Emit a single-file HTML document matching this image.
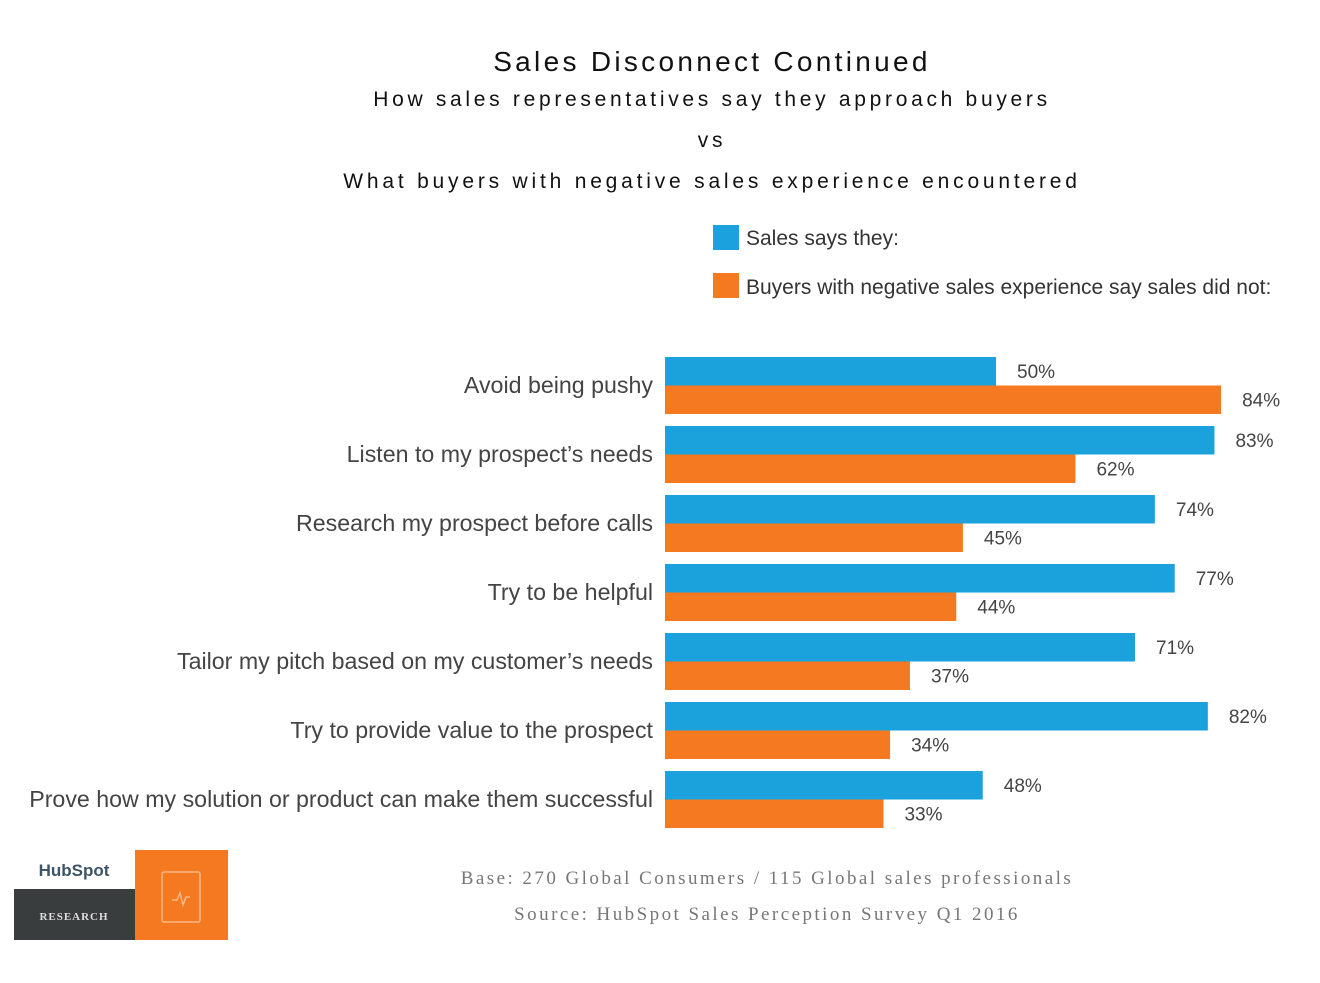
<!DOCTYPE html>
<html><head><meta charset="utf-8"><style>
body{margin:0;background:#fff;width:1320px;height:978px;overflow:hidden;font-family:"Liberation Sans",sans-serif}
</style></head><body>
<svg width="1320" height="978" xmlns="http://www.w3.org/2000/svg">
<text x="712" y="71" text-anchor="middle" font-size="28" letter-spacing="3.3" fill="#111">Sales Disconnect Continued</text>
<text x="712" y="106" text-anchor="middle" font-size="21" letter-spacing="3.7" fill="#111">How sales representatives say they approach buyers</text>
<text x="712" y="147" text-anchor="middle" font-size="21" letter-spacing="3.7" fill="#111">vs</text>
<text x="712" y="188" text-anchor="middle" font-size="21" letter-spacing="3.8" fill="#111">What buyers with negative sales experience encountered</text>
<g>
<rect x="713" y="225" width="26" height="25" fill="#1ba1dc"/>
<text x="746" y="245" font-size="21" fill="#333">Sales says they:</text>
<rect x="713" y="273" width="26" height="25" fill="#f47920"/>
<text x="746" y="294" font-size="21" fill="#333">Buyers with negative sales experience say sales did not:</text>
</g>
<g id="bars"></g>
<g>
<text x="74" y="876" text-anchor="middle" font-size="17" font-weight="bold" fill="#3d5566">HubSpot</text>
<rect x="14" y="889" width="121" height="51" fill="#3a3d3e"/>
<text x="74" y="920" text-anchor="middle" font-family="Liberation Serif,serif" font-size="11" font-weight="bold" letter-spacing="1" fill="#ddd">RESEARCH</text>
<rect x="135" y="850" width="93" height="90" fill="#f47920"/>
<rect x="162" y="872" width="38" height="50" rx="2" fill="none" stroke="#f9b889" stroke-width="1.5"/>
<polyline points="172,900 177,900 180,893 183,905 186,897 190,897" fill="none" stroke="#f9b889" stroke-width="1.5"/>
</g>
<text x="767" y="884" text-anchor="middle" font-family="Liberation Serif,serif" font-size="19" letter-spacing="2.45" fill="#777">Base: 270 Global Consumers / 115 Global sales professionals</text>
<text x="767" y="920" text-anchor="middle" font-family="Liberation Serif,serif" font-size="19" letter-spacing="2.45" fill="#777">Source: HubSpot Sales Perception Survey Q1 2016</text>
</svg>
<script>
const categories=["Avoid being pushy","Listen to my prospect’s needs","Research my prospect before calls","Try to be helpful","Tailor my pitch based on my customer’s needs","Try to provide value to the prospect","Prove how my solution or product can make them successful"];
const salesValues=[50,83,74,77,71,82,48];
const buyerValues=[84,62,45,44,37,34,33];
const NS="http://www.w3.org/2000/svg";
const g=document.getElementById('bars');
const x0=665,pxPer=6.62,top0=357,pitch=69,bh=28.5;
const xs=v=>v*pxPer;
function mk(t,a){const e=document.createElementNS(NS,t);for(const k in a)e.setAttribute(k,a[k]);g.appendChild(e);return e;}
categories.forEach((c,i)=>{
 const y=top0+i*pitch;
 const lab=mk('text',{x:653,y:y+36,'text-anchor':'end','font-size':23.2,fill:'#444'});lab.textContent=c;
 
 
 const b1=mk('rect',{x:x0,y:y,width:xs(salesValues[i]),height:bh,fill:'#1ba1dc'});
 
 
 const b2=mk('rect',{x:x0,y:y+bh,width:xs(buyerValues[i]),height:bh,fill:'#f47920'});
 
 
 const t1=mk('text',{x:x0+xs(salesValues[i])+21,y:y+21,'font-size':19,fill:'#444'});t1.textContent=salesValues[i]+'%';
 
 
 const t2=mk('text',{x:x0+xs(buyerValues[i])+21,y:y+bh+21,'font-size':19,fill:'#444'});t2.textContent=buyerValues[i]+'%';
 
 
});
</script>
</body></html>
